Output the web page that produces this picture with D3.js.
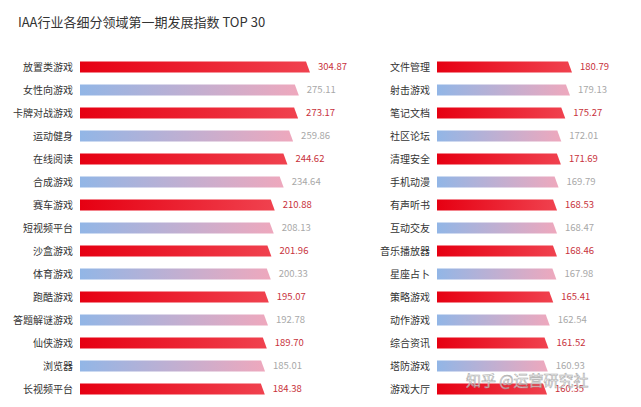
<!DOCTYPE html>
<html><head><meta charset="utf-8">
<script src="https://cdn.jsdelivr.net/npm/d3@7"></script>
<style>body{margin:0;background:#fff;font-family:"Noto Sans CJK SC","Noto Sans",sans-serif;}</style>
</head><body><svg id="chart" width="641" height="407"></svg>
<script>
const leftNames = ['放置类游戏','女性向游戏','卡牌对战游戏','运动健身','在线阅读','合成游戏','赛车游戏','短视频平台','沙盒游戏','体育游戏','跑酷游戏','答题解谜游戏','仙侠游戏','浏览器','长视频平台'];
const leftValues = [304.87,275.11,273.17,259.86,244.62,234.64,210.88,208.13,201.96,200.33,195.07,192.78,189.70,185.01,184.38];
const rightNames = ['文件管理','射击游戏','笔记文档','社区论坛','清理安全','手机动漫','有声听书','互动交友','音乐播放器','星座占卜','策略游戏','动作游戏','综合资讯','塔防游戏','游戏大厅'];
const rightValues = [180.79,179.13,175.27,172.01,171.69,169.79,168.53,168.47,168.46,167.98,165.41,162.54,161.52,160.93,160.35];

const svg = d3.select('#chart');
const defs = svg.append('defs');
const gr = defs.append('linearGradient').attr('id', 'gRed');
gr.append('stop').attr('offset', '0%').attr('stop-color', '#e60012');
gr.append('stop').attr('offset', '100%').attr('stop-color', '#f0424f');
const gb = defs.append('linearGradient').attr('id', 'gBlue');
gb.append('stop').attr('offset', '0%').attr('stop-color', '#92b6e6');
gb.append('stop').attr('offset', '100%').attr('stop-color', '#eea8bd');

svg.append('text').attr('x', 18).attr('y', 27).attr('font-size', 13).attr('fill', '#333')
  .text('IAA行业各细分领域第一期发展指数 TOP 30');

const y = d3.scaleBand().domain(d3.range(15)).range([55.5, 400.5]).paddingInner(0.52).paddingOuter(0.26);

function panel(names, values, x0, x1, domain, labelX) {
  const x = d3.scaleLinear().domain(domain).range([x0, x1]);
  const g = svg.append('g');
  const rows = g.selectAll('g').data(values).join('g');
  rows.append('path')
    .attr('d', (d, i) => {
      const t = y(i), b = t + y.bandwidth(), r = x(d);
      return `M${x0},${t}H${r - 4}L${r},${b}H${x0}Z`;
    })
    .attr('fill', (d, i) => i % 2 ? 'url(#gBlue)' : 'url(#gRed)');
  rows.append('text').attr('x', labelX).attr('y', (d, i) => y(i) + y.bandwidth() / 2)
    .attr('dy', '0.35em').attr('text-anchor', 'end').attr('font-size', 10).attr('fill', '#333')
    .text((d, i) => names[i]);
  rows.append('text').attr('x', d => x(d) + 8).attr('y', (d, i) => y(i) + y.bandwidth() / 2)
    .attr('dy', '0.35em').attr('font-size', 9.5)
    .attr('fill', (d, i) => i % 2 ? '#a8a8a8' : '#c8323c')
    .text(d => d.toFixed(2));
}
panel(leftNames, leftValues, 80, 310, [-308.5, 304.87], 73);
panel(rightNames, rightValues, 437, 572, [70.1, 180.79], 430);

svg.append('text').attr('x', 466).attr('y', 386).attr('font-size', 15).attr('fill', '#fff')
  .attr('stroke', '#999').attr('stroke-width', 0.6).attr('opacity', 0.8)
  .text('知乎 @运营研究社');
</script></body></html>
